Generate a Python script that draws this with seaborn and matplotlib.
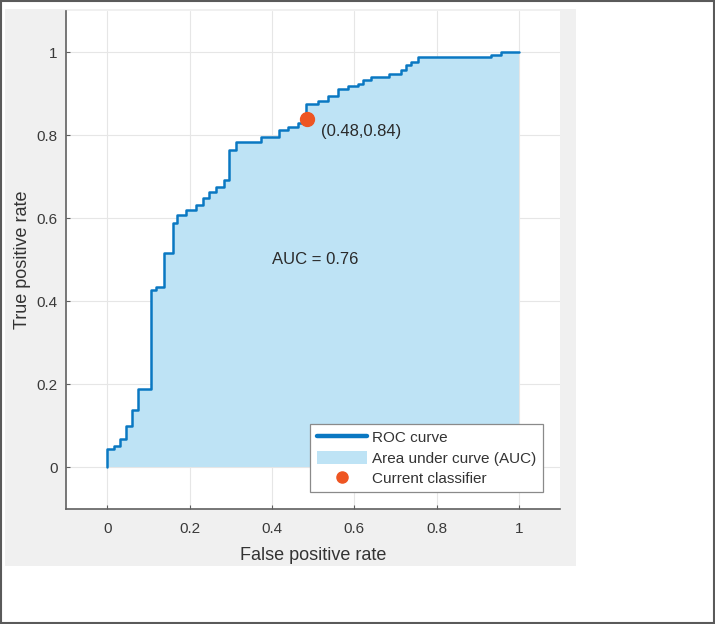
import matplotlib
matplotlib.use("Agg")
import matplotlib.pyplot as plt
from matplotlib.patches import Rectangle, Patch
from matplotlib.lines import Line2D
import numpy as np
import pandas as pd
import seaborn as sns

# ---- data ----
fpr = [0.0, 0.0, 0.017, 0.032, 0.046, 0.061, 0.075, 0.106, 0.119, 0.138, 0.160,
       0.170, 0.192, 0.216, 0.233, 0.248, 0.265, 0.284, 0.296, 0.313, 0.374,
       0.417, 0.439, 0.464, 0.478, 0.483, 0.512, 0.536, 0.561, 0.585, 0.609,
       0.621, 0.641, 0.684, 0.714, 0.726, 0.738, 0.755, 0.932, 0.956, 1.0]
tpr = [0.0, 0.043, 0.051, 0.067, 0.099, 0.137, 0.188, 0.427, 0.434, 0.516, 0.588,
       0.607, 0.619, 0.631, 0.648, 0.663, 0.675, 0.692, 0.764, 0.783, 0.795,
       0.812, 0.819, 0.829, 0.840, 0.875, 0.884, 0.896, 0.913, 0.920, 0.925,
       0.933, 0.940, 0.949, 0.957, 0.969, 0.976, 0.988, 0.993, 1.0, 1.0]
current_fpr = [0.485]
current_tpr = [0.84]
current_label = "(0.48,0.84)"
auc_text = "AUC = 0.76"
ticks = [0, 0.2, 0.4, 0.6, 0.8, 1]
tick_labels = ["0", "0.2", "0.4", "0.6", "0.8", "1"]
legend_labels = ["ROC curve", "Area under curve (AUC)", "Current classifier"]

df = pd.DataFrame({"fpr": fpr, "tpr": tpr})

sns.set_theme(style="whitegrid")
plt.rcParams["font.family"] = ["Liberation Sans", "DejaVu Sans"]

W, H = 715, 624
fig = plt.figure(figsize=(W / 100, H / 100), dpi=100)
fig.patch.set_facecolor("white")

# outer border and grey panel
fig.patches.append(Rectangle((0.001, 0.001), 0.998, 0.997, transform=fig.transFigure,
                             facecolor="white", edgecolor="#5a5a5a", linewidth=1.5, zorder=-2))
fig.patches.append(Rectangle((4.5 / W, 58 / H), (576 - 4.5) / W, (566 - 9) / H,
                             transform=fig.transFigure, facecolor="#f0f0f0",
                             edgecolor="none", zorder=-1))

ax = fig.add_axes([66 / W, (H - 508.5) / H, (560 - 66) / W, (508.5 - 11) / H])
ax.set_facecolor("white")

line_color = "#0a78c2"
fill_color = "#bee3f5"
pt_color = "#ee5522"

ax.fill_between(df["fpr"], df["tpr"], 0, step="post", color=fill_color, linewidth=0, zorder=1)
sns.lineplot(data=df, x="fpr", y="tpr", estimator=None, sort=False, drawstyle="steps-post",
             color=line_color, linewidth=1.8, ax=ax, zorder=3)
ax.plot(current_fpr, current_tpr, "o", color=pt_color, markersize=10, zorder=4)

ax.text(0.52, 0.81, current_label, fontsize=12, color="#2a2a2a", ha="left", va="center")
ax.text(0.40, 0.50, auc_text, fontsize=12, color="#2a2a2a", ha="left", va="center")

ax.set_xlim(-0.1, 1.1)
ax.set_ylim(-0.1, 1.1)
ax.set_xticks(ticks)
ax.set_xticklabels(tick_labels)
ax.set_yticks(ticks)
ax.set_yticklabels(tick_labels)
ax.grid(True, color="#e6e6e6", linewidth=0.8)
for s in ["top", "right"]:
    ax.spines[s].set_visible(False)
for s in ["left", "bottom"]:
    ax.spines[s].set_visible(True)
    ax.spines[s].set_color("#606060")
    ax.spines[s].set_linewidth(1.2)
ax.tick_params(axis="both", direction="in", length=3, width=0.8, color="#606060",
               labelsize=11, labelcolor="#3a3a3a", left=True, bottom=True)
ax.tick_params(axis="x", pad=10)
ax.tick_params(axis="y", pad=6)
ax.set_xlabel("False positive rate", fontsize=13, color="#333333", labelpad=8)
ax.set_ylabel("True positive rate", fontsize=13, color="#333333", labelpad=4)

handles = [Line2D([], [], color=line_color, linewidth=3.2),
           Patch(facecolor=fill_color, edgecolor="none"),
           Line2D([], [], color=pt_color, marker="o", linestyle="none", markersize=8)]
leg = ax.legend(handles, legend_labels, loc="lower right", bbox_to_anchor=(0.965, 0.033),
                borderaxespad=0, fontsize=11, handlelength=3.3, handletextpad=0.35,
                handleheight=0.9, labelspacing=0.38, borderpad=0.4, fancybox=False,
                framealpha=1, edgecolor="#8a8a8a", facecolor="white")
leg.get_frame().set_linewidth(0.9)
for t in leg.get_texts():
    t.set_color("#333333")

fig.savefig("out.png", dpi=100)
